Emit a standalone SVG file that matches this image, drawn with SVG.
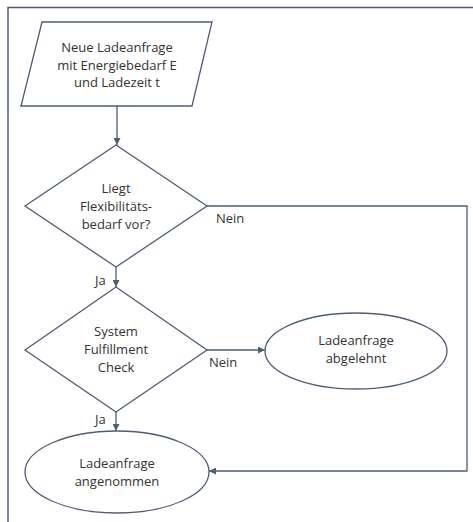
<svg xmlns="http://www.w3.org/2000/svg" width="473" height="522" viewBox="0 0 473 522">
  <style>
    .shape { fill: #ffffff; stroke: #4f5d73; stroke-width: 1.3; }
    .edge { fill: none; stroke: #4f5d73; stroke-width: 1.3; }
    .frame { fill: none; stroke: #4f5d73; stroke-width: 1.5; }
    text { font-family: "Open Sans", "Liberation Sans", sans-serif; font-size: 13px; fill: #333333; text-anchor: middle; }
    .lbl { text-anchor: start; }
  </style>
  <defs>
    <marker id="arrow" viewBox="0 0 10 10" refX="10" refY="5" markerWidth="7" markerHeight="7" markerUnits="userSpaceOnUse" orient="auto">
      <path d="M0,0 L10,5 L0,10 z" fill="#4f5d73"/>
    </marker>
  </defs>

  <rect width="473" height="522" fill="#ffffff"/>
  <!-- outer frame (top and left edges) -->
  <path class="frame" d="M8,522 V7.5 H473"/>

  <g id="connectors">
    <line class="edge" x1="117" y1="106" x2="117" y2="145" marker-end="url(#arrow)"/>
    <line class="edge" x1="116" y1="267" x2="116" y2="287" marker-end="url(#arrow)"/>
    <line class="edge" x1="116" y1="412" x2="116" y2="431" marker-end="url(#arrow)"/>
    <line class="edge" x1="207" y1="350" x2="265" y2="350" marker-end="url(#arrow)"/>
    <path class="edge" d="M207,206 H467 V471 H209" marker-end="url(#arrow)"/>
    <text class="lbl" x="216" y="223">Nein</text>
    <text class="lbl" x="95" y="285">Ja</text>
    <text class="lbl" x="209" y="367">Nein</text>
    <text class="lbl" x="95" y="424">Ja</text>
  </g>

  <g id="start">
    <polygon class="shape" points="42,22 212,22 192,106 21,106"/>
    <text x="117" y="52">Neue Ladeanfrage</text>
    <text x="117" y="70">mit Energiebedarf E</text>
    <text x="117" y="87">und Ladezeit t</text>
  </g>

  <g id="decision-flex">
    <polygon class="shape" points="116,145 207,206 116,267 25,206"/>
    <text x="116" y="193">Liegt</text>
    <text x="116" y="211">Flexibilitäts-</text>
    <text x="116" y="229">bedarf vor?</text>
  </g>

  <g id="decision-check">
    <polygon class="shape" points="116,287 207,350 116,412 25,350"/>
    <text x="116" y="336">System</text>
    <text x="116" y="354">Fulfillment</text>
    <text x="116" y="372">Check</text>
  </g>

  <g id="rejected">
    <ellipse class="shape" cx="356" cy="351" rx="91" ry="38"/>
    <text x="356" y="345">Ladeanfrage</text>
    <text x="356" y="363">abgelehnt</text>
  </g>

  <g id="accepted">
    <ellipse class="shape" cx="117" cy="472" rx="92" ry="41"/>
    <text x="117" y="468">Ladeanfrage</text>
    <text x="117" y="486">angenommen</text>
  </g>
</svg>
